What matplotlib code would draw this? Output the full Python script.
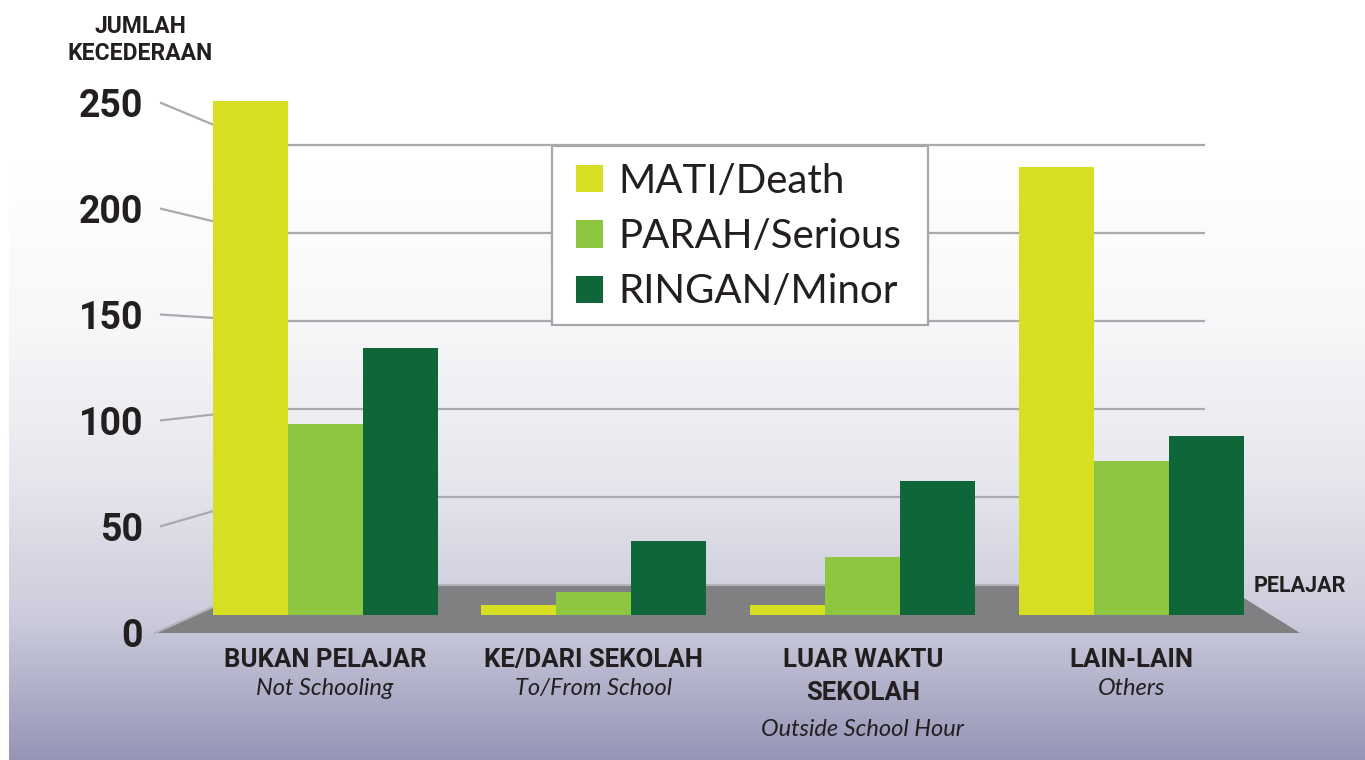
import numpy as np
import matplotlib
matplotlib.use("Agg")
import matplotlib.pyplot as plt
from matplotlib import font_manager, transforms
from matplotlib.patches import Polygon, Rectangle
from matplotlib.colors import to_rgb

# ---------------- data ----------------
categories_main = ["BUKAN PELAJAR", "KE/DARI SEKOLAH", "LUAR WAKTU\nSEKOLAH", "LAIN-LAIN"]
categories_sub = ["Not Schooling", "To/From School", "Outside School Hour", "Others"]
series_names = ["MATI/Death", "PARAH/Serious", "RINGAN/Minor"]
death = [250, 5, 5, 218]
serious = [93, 11, 28, 75]
minor = [130, 36, 65, 87]
y_ticks = [0, 50, 100, 150, 200, 250]

colors = ["#d6df21", "#8dc63f", "#0f6638"]
text_col = "#231f20"
grid_col = "#a9a9ae"

names = {f.name for f in font_manager.fontManager.ttflist}
BOLD = "Roboto" if "Roboto" in names else "DejaVu Sans"
LIGHT = "Lato" if "Lato" in names else "DejaVu Sans"

W, H = 1365, 760
fig = plt.figure(figsize=(W / 100, H / 100), dpi=100)
fig.patch.set_facecolor("white")

# background (pixel coordinates, y down)
bg = fig.add_axes([0, 0, 1, 1], zorder=0)
bg.set_xlim(0, W)
bg.set_ylim(H, 0)
bg.axis("off")

stops_y = [165, 330, 480, 620, 760]
stops_c = ["#ffffff", "#f7f7f9", "#e6e6ed", "#cbcbdc", "#9594b6"]
ys = np.arange(165, 761)
rgb = np.array([to_rgb(c) for c in stops_c])
grad = np.stack([np.interp(ys, stops_y, rgb[:, k]) for k in range(3)], axis=-1)[:, None, :]
bg.imshow(grad, extent=(9, W, 761, 165), aspect="auto", interpolation="bilinear", zorder=0)

# geometry of the pseudo-3D frame
front_x, back_x, wall_right = 160, 262, 1205
floor_front_y, floor_back_y = 633, 585
front_scale, back_scale = 2.12, 1.76

def front_y(v):
    return 632.5 - front_scale * v

def back_y(v):
    return floor_back_y - back_scale * v

# floor
floor = Polygon([(155, floor_front_y), (back_x, floor_back_y), (1223, floor_back_y), (1300, floor_front_y)],
                closed=True, facecolor="#808083", edgecolor="none", zorder=1)
bg.add_patch(floor)
bg.plot([155, back_x, 1223], [floor_front_y, floor_back_y, floor_back_y], color="#b3b3b8", lw=1.5, zorder=2)

# gridlines: slanted connectors + back wall lines
for v in y_ticks[1:]:
    bg.plot([front_x, back_x, wall_right], [front_y(v), back_y(v), back_y(v)],
            color=grid_col, lw=1.6, zorder=2, solid_capstyle="butt")

# legend box
bg.add_patch(Rectangle((552, 146), 376, 179, facecolor="white", edgecolor="#a7a7ab", lw=1.6, zorder=3))

# ---------------- bars ----------------
ax = fig.add_axes([0, 0, 1, 1], zorder=2)
ax.patch.set_alpha(0)
ax.axis("off")
gc0, gsp = 325.0, 268.9
ax.set_xlim((0 - gc0) / gsp, (W - gc0) / gsp)
ax.set_ylim((615 - H) / 2.056, 615 / 2.056)
bw = 75.0 / gsp
x = np.arange(len(categories_main))
handles = []
for j, (vals, name, c) in enumerate(zip([death, serious, minor], series_names, colors)):
    h = ax.bar(x + (j - 1) * bw, vals, width=bw, color=c, label=name, linewidth=0, zorder=3)
    handles.append(h)

leg = ax.legend(handles=handles, loc="upper left", bbox_to_anchor=(576 / W, 1 - 163 / H),
                bbox_transform=fig.transFigure, frameon=False, borderpad=0, borderaxespad=0,
                handlelength=0.66, handleheight=0.66, handletextpad=0.38, labelspacing=0.45,
                prop={"family": LIGHT, "weight": "normal", "size": 29})
for t in leg.get_texts():
    t.set_color(text_col)

# category labels
tr = transforms.blended_transform_factory(ax.transData, bg.transData)
for i, (m, s) in enumerate(zip(categories_main, categories_sub)):
    lines = m.split("\n")
    for k, line in enumerate(lines):
        ax.text(i, 667 + 33 * k, line, transform=tr, ha="center", va="baseline", family=BOLD,
                weight="bold", size=18.5, color=text_col)
    ax.text(i, 695 + 41 * (len(lines) - 1), s, transform=tr, ha="center", va="baseline", family=LIGHT,
            style="italic", weight="normal", size=17, color=text_col)

# ---------------- y tick labels (front scale) ----------------
axt = fig.add_axes([143 / W, 0, 5 / W, 1], zorder=2)
axt.patch.set_alpha(0)
axt.set_ylim((632.5 - H) / front_scale, 632.5 / front_scale)
axt.set_yticks(y_ticks)
axt.set_yticklabels([str(v) for v in y_ticks])
axt.tick_params(axis="y", length=0, pad=0, labelsize=27, labelcolor=text_col)
for lab in axt.get_yticklabels():
    lab.set_fontfamily(BOLD)
    lab.set_fontweight("bold")
axt.set_xticks([])
for sp in axt.spines.values():
    sp.set_visible(False)

# axis titles
bg.text(140, 33, "JUMLAH", ha="center", va="baseline", family=BOLD, weight="bold", size=16.5, color=text_col, zorder=5)
bg.text(140, 60, "KECEDERAAN", ha="center", va="baseline", family=BOLD, weight="bold", size=16.5, color=text_col, zorder=5)
bg.text(1346, 592, "PELAJAR", ha="right", va="baseline", family=BOLD, weight="bold", size=15.5, color=text_col, zorder=5)

fig.savefig("out.png", dpi=100)
